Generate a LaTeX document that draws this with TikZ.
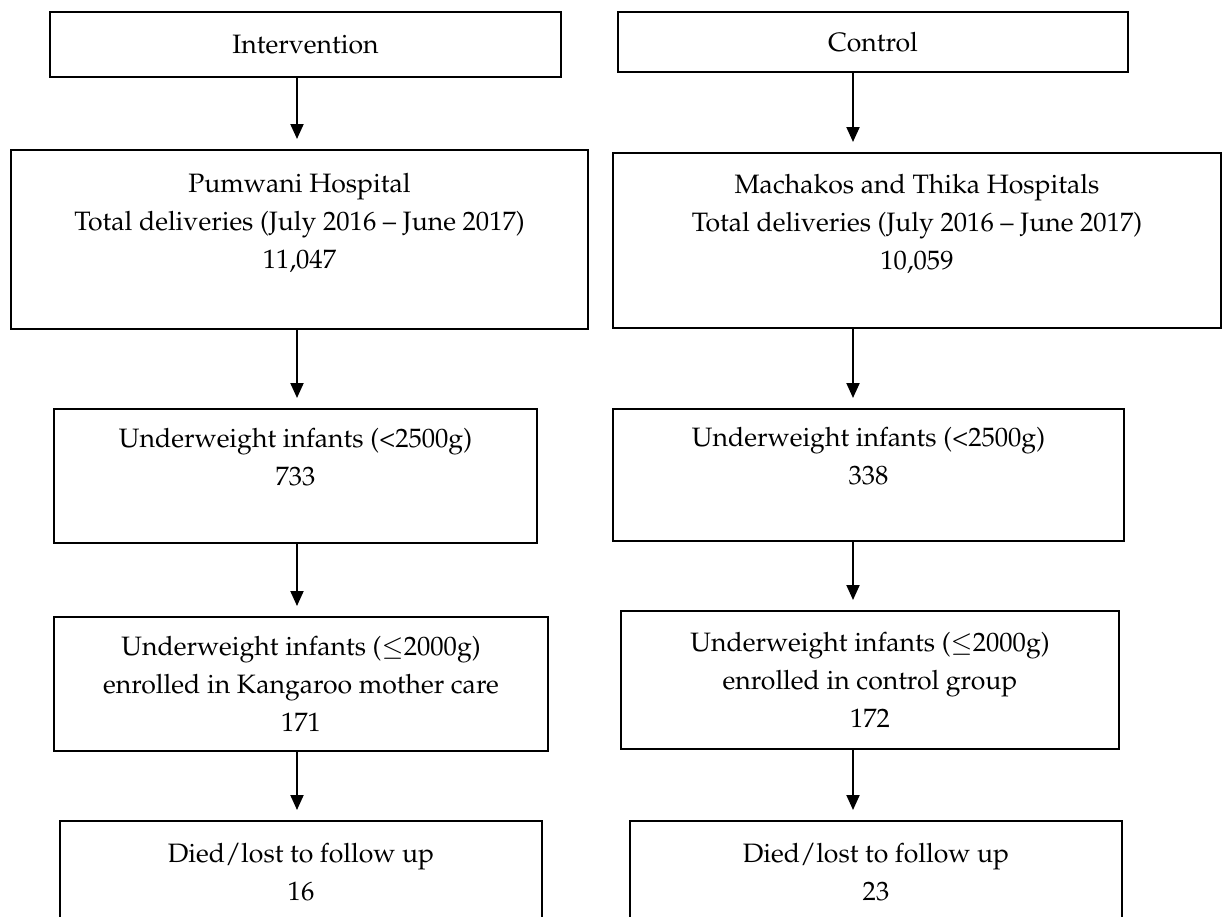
\documentclass[tikz,border=0pt]{standalone}
\usepackage[T1]{fontenc}
\usepackage{mathpazo}
\usepackage{amsmath}
\usepackage{tikz}
\usetikzlibrary{arrows.meta}

\tikzset{
  flowbox/.style={draw, line width=1pt, inner sep=0pt, align=center,
    font=\fontsize{13.3pt}{19pt}\selectfont},
  flowarrow/.style={line width=1pt, -{Triangle[length=7.5pt,width=6.5pt]}, shorten >=5pt}
}

\begin{document}
\begin{tikzpicture}[x=0.5pt,y=0.5pt,yscale=-1,xscale=1]
%set diagram left start at 0, and has height of 916
\path[use as bounding box] (0,0) rectangle (1224,916);

% arrow columns
\coordinate (lcol) at (297,0);
\coordinate (rcol) at (853,0);

%Shape: Rectangle [Intervention]
\node[flowbox, minimum width=255.5pt, minimum height=32.5pt] (interv) at (305.5,44.5) {Intervention};
%Shape: Rectangle [Control]
\node[flowbox, minimum width=255pt, minimum height=30pt] (contr) at (873,42) {Control};

%Shape: Rectangle [deliveries]
\node[flowbox, minimum width=288.5pt, minimum height=89.5pt] (pumw) at (299.5,239.5)
  {Pumwani Hospital\\Total deliveries (July 2016 -- June 2017)\\11,047\\\mbox{}};
\node[flowbox, minimum width=304pt, minimum height=87.5pt] (mach) at (917,240.5)
  {Machakos and Thika Hospitals\\Total deliveries (July 2016 -- June 2017)\\10,059\\\mbox{}};

%Shape: Rectangle [under 2500g]
\node[flowbox, minimum width=241.5pt, minimum height=67pt] (lbwl) at (295.5,476)
  {Underweight infants (\textless2500g)\\733\\\mbox{}};
\node[flowbox, minimum width=255.5pt, minimum height=66pt] (lbwr) at (868.5,475)
  {Underweight infants (\textless2500g)\\338\\\mbox{}};

%Shape: Rectangle [enrolled]
\node[flowbox, minimum width=247pt, minimum height=67pt] (enrl) at (301,684)
  {Underweight infants ($\leq$2000g)\\enrolled in Kangaroo mother care\\171};
\node[flowbox, minimum width=249pt, minimum height=69pt] (enrr) at (870,680)
  {Underweight infants ($\leq$2000g)\\enrolled in control group\\172};

%Shape: Rectangle [lost]
\node[flowbox, minimum width=241pt, minimum height=51pt] (diedl) at (301,872)
  {Died/lost to follow up\\16};
\node[flowbox, minimum width=246pt, minimum height=51pt] (diedr) at (876,872)
  {Died/lost to follow up\\23};

%Straight Lines [arrows]
\draw[flowarrow] (interv.south -| lcol) -- (pumw.north -| lcol);
\draw[flowarrow] (pumw.south -| lcol) -- (lbwl.north -| lcol);
\draw[flowarrow] (lbwl.south -| lcol) -- (enrl.north -| lcol);
\draw[flowarrow] (enrl.south -| lcol) -- (diedl.north -| lcol);

\draw[flowarrow] (contr.south -| rcol) -- (mach.north -| rcol);
\draw[flowarrow] (mach.south -| rcol) -- (lbwr.north -| rcol);
\draw[flowarrow] (lbwr.south -| rcol) -- (enrr.north -| rcol);
\draw[flowarrow] (enrr.south -| rcol) -- (diedr.north -| rcol);

\end{tikzpicture}
\end{document}
